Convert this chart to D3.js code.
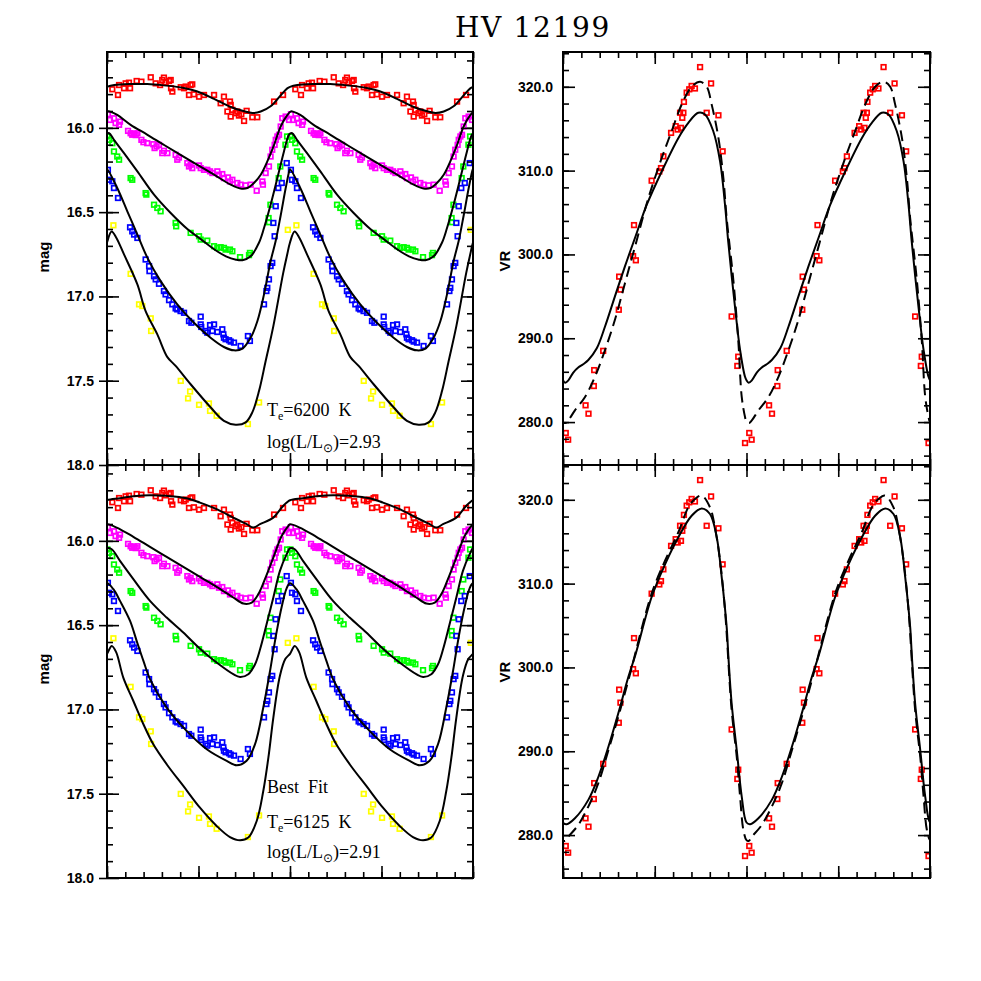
<!DOCTYPE html>
<html><head><meta charset="utf-8">
<script src="https://cdn.jsdelivr.net/npm/d3@7"></script>
<style>body{margin:0;background:#fff}svg{display:block}</style>
</head><body>
<svg id="c" width="981" height="981"></svg>
<script>
// ---------- DATA (phase folded, one cycle; plotted over two cycles) ----------
const title = "HV 12199";
const phaseMajorTicks = [0, 0.5, 1, 1.5, 2];
const magMajorTicks = [16.0, 16.5, 17.0, 17.5, 18.0];
const vrMajorTicks = [280, 290, 300, 310, 320];

// observed magnitudes [phase, mag]
const redData = [[0.029,15.771],[0.060,15.805],[0.066,15.746],[0.093,15.765],[0.102,15.736],[0.126,15.765],[0.120,15.732],[0.162,15.722],[0.188,15.726],[0.239,15.700],[0.266,15.736],[0.290,15.746],[0.302,15.716],[0.311,15.702],[0.321,15.730],[0.339,15.722],[0.348,15.716],[0.357,15.785],[0.350,15.765],[0.403,15.759],[0.421,15.765],[0.430,15.755],[0.448,15.805],[0.457,15.746],[0.466,15.742],[0.475,15.801],[0.503,15.815],[0.530,15.805],[0.585,15.805],[0.621,15.854],[0.639,15.815],[0.672,15.844],[0.676,15.864],[0.658,15.903],[0.685,15.893],[0.676,15.933],[0.703,15.913],[0.712,15.903],[0.721,15.927],[0.734,15.919],[0.749,15.959],[0.763,15.899],[0.794,15.937],[0.821,15.937],[0.913,15.844],[0.962,15.805]];
const magentaData = [[0.005,15.919],[0.016,15.953],[0.038,15.943],[0.047,15.972],[0.066,15.982],[0.071,15.963],[0.115,16.018],[0.129,16.032],[0.138,16.041],[0.148,16.035],[0.157,16.043],[0.166,16.032],[0.188,16.071],[0.199,16.085],[0.220,16.091],[0.253,16.097],[0.260,16.120],[0.271,16.110],[0.284,16.101],[0.302,16.150],[0.311,16.136],[0.330,16.150],[0.375,16.160],[0.384,16.189],[0.393,16.176],[0.439,16.209],[0.448,16.229],[0.457,16.219],[0.466,16.239],[0.503,16.223],[0.512,16.239],[0.530,16.249],[0.548,16.249],[0.563,16.258],[0.576,16.268],[0.603,16.258],[0.612,16.278],[0.630,16.274],[0.639,16.298],[0.661,16.294],[0.672,16.318],[0.685,16.308],[0.712,16.327],[0.730,16.337],[0.758,16.341],[0.785,16.337],[0.818,16.373],[0.849,16.318],[0.852,16.337],[0.867,16.268],[0.885,16.229],[0.894,16.170],[0.903,16.130],[0.916,16.101],[0.922,16.071],[0.931,16.051],[0.940,16.041],[0.949,15.992],[0.958,15.943],[0.976,15.933],[0.995,15.953]];
const greenData = [[0.002,16.051],[0.011,16.071],[0.029,16.091],[0.038,16.140],[0.056,16.170],[0.066,16.189],[0.129,16.298],[0.138,16.308],[0.211,16.387],[0.215,16.396],[0.257,16.456],[0.275,16.475],[0.293,16.495],[0.375,16.564],[0.378,16.584],[0.457,16.623],[0.503,16.643],[0.512,16.663],[0.548,16.669],[0.585,16.702],[0.603,16.712],[0.621,16.708],[0.639,16.712],[0.648,16.722],[0.672,16.722],[0.685,16.732],[0.727,16.767],[0.776,16.755],[0.781,16.742],[0.883,16.535],[0.885,16.560],[0.893,16.456],[0.938,16.298],[0.947,16.229],[0.975,16.100],[0.984,16.051]];
const blueData = [[0.005,16.249],[0.011,16.308],[0.029,16.317],[0.038,16.357],[0.060,16.416],[0.126,16.590],[0.138,16.614],[0.148,16.633],[0.166,16.653],[0.211,16.781],[0.230,16.820],[0.232,16.850],[0.257,16.880],[0.266,16.899],[0.284,16.925],[0.311,16.968],[0.320,16.988],[0.339,17.022],[0.357,17.047],[0.375,17.071],[0.384,17.077],[0.402,17.087],[0.421,17.097],[0.448,17.146],[0.461,17.156],[0.512,17.120],[0.512,17.166],[0.515,17.181],[0.539,17.205],[0.548,17.215],[0.563,17.170],[0.585,17.166],[0.576,17.205],[0.603,17.211],[0.630,17.195],[0.636,17.225],[0.639,17.245],[0.648,17.254],[0.667,17.260],[0.676,17.268],[0.694,17.274],[0.730,17.294],[0.770,17.235],[0.781,17.264],[0.858,17.047],[0.871,16.968],[0.876,16.949],[0.885,16.899],[0.894,16.820],[0.903,16.801],[0.909,16.564],[0.916,16.643],[0.922,16.465],[0.936,16.357],[0.955,16.327],[0.982,16.209]];
const yellowData = [[0.035,16.578],[0.129,16.866],[0.175,17.047],[0.193,17.057],[0.239,17.130],[0.241,17.205],[0.403,17.501],[0.454,17.564],[0.443,17.605],[0.503,17.643],[0.557,17.635],[0.563,17.679],[0.599,17.708],[0.770,17.757],[0.831,17.629],[0.988,16.605]];
// observed radial velocities [phase, VR]
const vrData = [[0.015,278.7],[0.028,277.9],[0.123,282.0],[0.139,281.0],[0.168,284.3],[0.170,286.2],[0.219,288.5],[0.304,293.4],[0.306,297.35],[0.313,295.8],[0.382,299.8],[0.387,303.5],[0.397,299.3],[0.483,308.8],[0.525,309.9],[0.534,310.3],[0.547,311.7],[0.589,314.5],[0.614,315.3],[0.625,314.9],[0.643,315.1],[0.638,316.9],[0.656,316.9],[0.650,316.3],[0.659,318.2],[0.674,319.3],[0.688,319.7],[0.701,320.1],[0.719,319.8],[0.747,322.35],[0.783,316.9],[0.807,320.4],[0.847,316.6],[0.870,312.3],[0.919,292.6],[0.950,286.7],[0.955,287.8],[0.992,277.5]];

// model curves, top (Te=6200 K)
const redModelTop = [[0.0,15.757],[0.04,15.746],[0.13,15.740],[0.22,15.740],[0.31,15.748],[0.42,15.763],[0.49,15.783],[0.585,15.828],[0.676,15.876],[0.75,15.902],[0.795,15.912],[0.84,15.903],[0.894,15.872],[0.949,15.807],[0.985,15.766]];
const magentaModelTop = [[0.005,15.902],[0.02,15.905],[0.056,15.923],[0.129,15.982],[0.221,16.041],[0.311,16.101],[0.402,16.160],[0.494,16.219],[0.585,16.278],[0.676,16.337],[0.73,16.360],[0.767,16.357],[0.803,16.327],[0.840,16.278],[0.876,16.199],[0.913,16.101],[0.949,15.992],[0.985,15.925]];
const greenModelTop = [[0.0,16.034],[0.012,16.032],[0.038,16.071],[0.093,16.150],[0.166,16.258],[0.257,16.396],[0.348,16.505],[0.439,16.600],[0.512,16.660],[0.585,16.720],[0.65,16.762],[0.705,16.782],[0.74,16.785],[0.785,16.762],[0.831,16.680],[0.858,16.594],[0.894,16.456],[0.931,16.298],[0.967,16.140],[0.992,16.045]];
const blueModelTop = [[0.0,16.245],[0.056,16.357],[0.111,16.495],[0.166,16.633],[0.221,16.771],[0.293,16.909],[0.384,17.047],[0.475,17.156],[0.566,17.245],[0.639,17.300],[0.694,17.320],[0.740,17.310],[0.785,17.245],[0.822,17.146],[0.858,16.988],[0.894,16.791],[0.922,16.670],[0.949,16.520],[0.976,16.360],[0.995,16.260]];
const yellowModelTop = [[0.0,16.68],[0.025,16.615],[0.05,16.65],[0.093,16.751],[0.166,16.929],[0.211,17.087],[0.275,17.225],[0.330,17.360],[0.375,17.412],[0.457,17.521],[0.567,17.659],[0.639,17.738],[0.703,17.761],[0.758,17.747],[0.794,17.688],[0.831,17.560],[0.867,17.383],[0.909,17.176],[0.963,16.860],[0.985,16.750]];
const vrSolidTop = [[0.0,285.0],[0.012,284.7],[0.03,285.0],[0.056,285.9],[0.083,286.5],[0.11,286.9],[0.138,287.4],[0.184,288.8],[0.229,291.4],[0.283,295.0],[0.338,298.6],[0.396,302.2],[0.456,305.9],[0.538,309.9],[0.629,313.9],[0.683,315.7],[0.737,316.9],[0.774,316.7],[0.819,314.7],[0.856,311.1],[0.883,305.9],[0.901,301.4],[0.937,293.8],[0.965,288.6],[0.992,285.4]];
const vrDashTop = [[0.0,280.0],[0.015,279.9],[0.029,280.2],[0.065,281.4],[0.120,283.0],[0.174,285.4],[0.229,288.6],[0.283,292.2],[0.338,296.6],[0.392,300.9],[0.465,306.7],[0.538,311.5],[0.592,314.7],[0.647,317.9],[0.701,320.0],[0.747,320.6],[0.783,320.0],[0.810,317.9],[0.847,313.9],[0.874,309.1],[0.892,304.3],[0.928,297.0],[0.955,289.8],[0.974,283.0],[0.992,280.6]];

// model curves, bottom (best fit, Te=6125 K)
const redModelBot = [[0.0,15.759],[0.071,15.747],[0.144,15.735],[0.235,15.729],[0.326,15.733],[0.435,15.747],[0.508,15.773],[0.599,15.812],[0.690,15.862],[0.763,15.901],[0.800,15.921],[0.836,15.901],[0.909,15.862],[0.955,15.802],[0.982,15.773]];
const magentaModelBot = [[0.0,15.901],[0.053,15.921],[0.144,15.976],[0.235,16.036],[0.326,16.095],[0.417,16.154],[0.508,16.214],[0.599,16.273],[0.690,16.336],[0.745,16.372],[0.791,16.366],[0.827,16.316],[0.863,16.227],[0.909,16.099],[0.955,15.970],[0.991,15.911]];
const greenModelBot = [[0.0,16.044],[0.026,16.050],[0.071,16.119],[0.144,16.227],[0.235,16.356],[0.326,16.455],[0.417,16.544],[0.508,16.640],[0.599,16.722],[0.690,16.791],[0.727,16.807],[0.772,16.791],[0.809,16.732],[0.836,16.645],[0.872,16.495],[0.909,16.336],[0.945,16.178],[0.982,16.079]];
const blueModelBot = [[0.0,16.252],[0.035,16.287],[0.071,16.356],[0.126,16.475],[0.162,16.593],[0.199,16.712],[0.235,16.820],[0.326,16.989],[0.435,17.127],[0.545,17.236],[0.654,17.305],[0.709,17.331],[0.763,17.305],[0.809,17.206],[0.854,16.989],[0.891,16.771],[0.909,16.652],[0.927,16.540],[0.955,16.390],[0.982,16.280]];
const yellowModelBot = [[0.0,16.67],[0.026,16.623],[0.05,16.66],[0.089,16.811],[0.144,16.950],[0.199,17.088],[0.253,17.207],[0.326,17.325],[0.417,17.454],[0.508,17.583],[0.599,17.691],[0.672,17.757],[0.727,17.776],[0.772,17.760],[0.818,17.662],[0.854,17.484],[0.882,17.285],[0.909,17.048],[0.945,16.800],[0.975,16.700]];
const vrSolidBot = [[0.0,281.5],[0.02,281.3],[0.065,282.0],[0.138,284.2],[0.192,286.9],[0.247,290.5],[0.301,294.5],[0.356,298.85],[0.396,301.6],[0.483,308.4],[0.556,312.3],[0.628,315.5],[0.701,318.1],[0.756,318.97],[0.801,318.3],[0.838,315.5],[0.865,310.75],[0.892,304.8],[0.901,301.4],[0.919,295.7],[0.947,290.1],[0.974,284.6]];
const vrDashBot = [[0.0,279.4],[0.012,279.3],[0.029,279.8],[0.083,281.2],[0.138,283.4],[0.192,286.15],[0.247,290.1],[0.301,294.1],[0.356,298.45],[0.483,308.8],[0.556,312.74],[0.628,316.1],[0.683,319.1],[0.719,320.1],[0.756,320.5],[0.801,319.1],[0.828,316.7],[0.856,312.7],[0.883,306.8],[0.919,294.9],[0.947,289.3],[0.965,284.6],[0.983,280.6]];

const bandColors = {red:"#ff0000", magenta:"#ff00ff", green:"#00ff00", blue:"#0000ff", yellow:"#ffff00"};

// ---------- DRAWING ----------
const svg = d3.select("#c");
svg.append("rect").attr("width",981).attr("height",981).attr("fill","#fff");

const twoCycles = arr => arr.flatMap(([p,v]) => [[p,v],[p+1,v]]);
const periodic = arr => {
  const out = [];
  for (const k of [-1,0,1,2]) for (const [p,v] of arr) { const q = p+k; if (q > -0.15 && q < 2.15) out.push([q,v]); }
  return out.sort((a,b)=>a[0]-b[0]);
};
const range = (a,b,s) => d3.range(Math.round(a/s), Math.round(b/s)+1).map(i=>+(i*s).toFixed(4));

const panelDefs = [
  {id:"TL", x0:107, x1:473, y0:52, y1:465, kind:"mag"},
  {id:"BL", x0:107, x1:473, y0:465, y1:878, kind:"mag"},
  {id:"TR", x0:563, x1:930, y0:52, y1:465, kind:"vr"},
  {id:"BR", x0:563, x1:930, y0:465, y1:878, kind:"vr"}
];

function makePanel(pd){
  const x = d3.scaleLinear([0,2],[pd.x0,pd.x1]);
  const y = pd.kind==="mag" ? d3.scaleLinear([15.55,18.0],[pd.y0,pd.y1])
                            : d3.scaleLinear([274.88,324.15],[pd.y1,pd.y0]);
  const g = svg.append("g");
  const clipId = "clip"+pd.id;
  svg.append("clipPath").attr("id",clipId).append("rect")
    .attr("x",pd.x0).attr("y",pd.y0).attr("width",pd.x1-pd.x0).attr("height",pd.y1-pd.y0);
  const plot = g.append("g").attr("clip-path",`url(#${clipId})`);

  const majorY = pd.kind==="mag" ? magMajorTicks : vrMajorTicks;
  const minorY = pd.kind==="mag" ? range(15.6,17.9,0.1) : range(276,324,2);
  const minorX = range(0,2,0.1);
  const fmt = d3.format(".1f");
  const ax = g.append("g").attr("class","axes");
  const style = sel => { sel.select(".domain").remove(); sel.selectAll(".tick line").attr("stroke","#000").attr("stroke-width",1.6); };
  ax.append("g").attr("transform",`translate(0,${pd.y1})`).call(d3.axisBottom(x).tickValues(phaseMajorTicks).tickSize(-12).tickFormat("")).call(style);
  ax.append("g").attr("transform",`translate(0,${pd.y1})`).call(d3.axisBottom(x).tickValues(minorX).tickSize(-6).tickFormat("")).call(style);
  ax.append("g").attr("transform",`translate(0,${pd.y0})`).call(d3.axisTop(x).tickValues(phaseMajorTicks).tickSize(-12).tickFormat("")).call(style);
  ax.append("g").attr("transform",`translate(0,${pd.y0})`).call(d3.axisTop(x).tickValues(minorX).tickSize(-6).tickFormat("")).call(style);
  const left = ax.append("g").attr("transform",`translate(${pd.x0},0)`)
    .call(d3.axisLeft(y).tickValues(majorY).tickSize(-12).tickPadding(pd.kind==="mag"?13:10).tickFormat(fmt)).call(style);
  left.selectAll("text").attr("font-family","'Liberation Sans',Arial,sans-serif").attr("font-weight","bold").attr("font-size",14).attr("fill","#000");
  if (pd.kind==="mag") {
    ax.append("g").attr("transform",`translate(${pd.x0},0)`).call(d3.axisLeft(y).tickValues(majorY).tickSize(8).tickFormat("")).call(style);
  }
  ax.append("g").attr("transform",`translate(${pd.x0},0)`).call(d3.axisLeft(y).tickValues(minorY).tickSize(-6).tickFormat("")).call(style);
  ax.append("g").attr("transform",`translate(${pd.x1},0)`).call(d3.axisRight(y).tickValues(majorY).tickSize(-12).tickFormat("")).call(style);
  ax.append("g").attr("transform",`translate(${pd.x1},0)`).call(d3.axisRight(y).tickValues(minorY).tickSize(-6).tickFormat("")).call(style);
  g.append("rect").attr("x",pd.x0).attr("y",pd.y0).attr("width",pd.x1-pd.x0).attr("height",pd.y1-pd.y0)
    .attr("fill","none").attr("stroke","#000").attr("stroke-width",2);
  return {x,y,plot,g};
}

const line = (x,y) => d3.line().x(d=>x(d[0])).y(d=>y(d[1])).curve(d3.curveCatmullRom.alpha(0.5));

function drawModel(P, arr, dashed){
  P.plot.append("path").datum(periodic(arr)).attr("d", line(P.x,P.y))
    .attr("fill","none").attr("stroke","#000").attr("stroke-width",2)
    .attr("stroke-dasharray", dashed ? "11,6" : null);
}
function drawPoints(P, arr, color){
  P.plot.append("g").selectAll("rect").data(twoCycles(arr)).join("rect")
    .attr("x",d=>P.x(d[0])-2.3).attr("y",d=>P.y(d[1])-2.3)
    .attr("width",4.6).attr("height",4.6)
    .attr("fill","none").attr("stroke",color).attr("stroke-width",1.7);
}

const bands = [
  ["red", redData, redModelTop, redModelBot],
  ["magenta", magentaData, magentaModelTop, magentaModelBot],
  ["green", greenData, greenModelTop, greenModelBot],
  ["blue", blueData, blueModelTop, blueModelBot],
  ["yellow", yellowData, yellowModelTop, yellowModelBot]
];

const P = {};
panelDefs.forEach(pd => P[pd.id] = makePanel(pd));

bands.forEach(([c,data]) => { drawPoints(P.TL, data, bandColors[c]); drawPoints(P.BL, data, bandColors[c]); });
bands.forEach(([c,data,mt,mb]) => { drawModel(P.TL, mt, false); drawModel(P.BL, mb, false); });
drawPoints(P.TR, vrData, bandColors.red); drawPoints(P.BR, vrData, bandColors.red);
drawModel(P.TR, vrSolidTop, false); drawModel(P.TR, vrDashTop, true);
drawModel(P.BR, vrSolidBot, false); drawModel(P.BR, vrDashBot, true);

// title & labels
svg.append("text").attr("x",533).attr("y",37).attr("text-anchor","middle")
  .attr("font-family","'DejaVu Serif',serif").attr("font-size",28)
  .attr("letter-spacing",1.7).attr("fill","#000").text(title);
const axLabel = (txt,x,y) => svg.append("text").attr("transform",`translate(${x},${y}) rotate(-90)`)
  .attr("text-anchor","middle").attr("font-family","'Liberation Sans',Arial,sans-serif").attr("font-weight","bold")
  .attr("font-size",15).attr("fill","#000").text(txt);
axLabel("mag",49,257); axLabel("mag",49,669);
axLabel("VR",510,261); axLabel("VR",510,672);

function annot(x,y,parts){
  const t = svg.append("text").attr("x",x).attr("y",y).attr("font-family","'Liberation Serif','Times New Roman',serif")
    .attr("font-size",18).attr("fill","#000").style("white-space","pre");
  let prevSub = false;
  parts.forEach(([s,sub]) => {
    const ts = t.append("tspan").text(s);
    if (sub) ts.attr("font-size",12).attr("dy",4);
    else if (prevSub) ts.attr("dy",-4);
    prevSub = !!sub;
  });
}
annot(267,416,[["T"],["e",1],["=6200  K"]]);
annot(267,448,[["log(L/L"],["\u2299",1],[")=2.93"]]);
annot(267,793,[["Best  Fit"]]);
annot(267,828,[["T"],["e",1],["=6125  K"]]);
annot(267,858,[["log(L/L"],["\u2299",1],[")=2.91"]]);
</script>
</body></html>
